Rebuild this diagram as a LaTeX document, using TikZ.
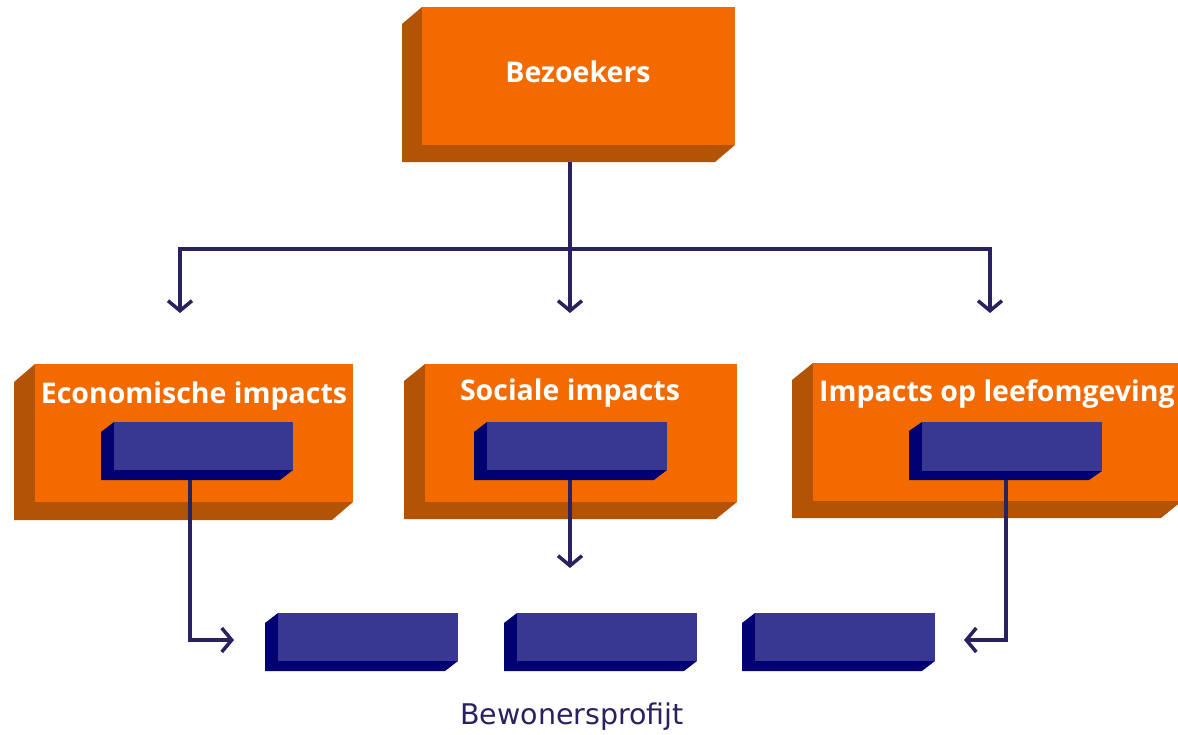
\documentclass[tikz,border=0pt]{standalone}
\usepackage{fontspec}
\setmainfont{DejaVu Sans}
\newfontfamily\lblfont{Open Sans}
\usetikzlibrary{arrows.meta}
\definecolor{orfront}{HTML}{F26A00}
\definecolor{orside}{HTML}{B35306}
\definecolor{blfront}{HTML}{383892}
\definecolor{blside}{HTML}{020172}
\definecolor{navy}{HTML}{28225F}
\newcommand\mybox[8]{%
  % #1 name, #2 x1, #3 y1, #4 x2, #5 y2, #6 dx, #7 dy, #8 colour base
  \fill[#8side] (#2,#3) -- (#2+#6,#3+#7) -- (#2+#6,#5+#7) -- (#4+#6,#5+#7) -- (#4,#5) -- cycle;
  \node[fill=#8front, inner sep=0pt, outer sep=0pt, anchor=north west,
        minimum width={(#4-#2)*1pt}, minimum height={(#5-#3)*1pt}] (#1) at (#2,#3) {};
}
\begin{document}
\begin{tikzpicture}[x=1pt,y=-1pt,
  conn/.style={draw=navy, line width=3.5pt},
  arr/.style={conn, -{Straight Barb[length=10pt,width=24pt,line width=3.5pt]}},
  lbl/.style={text=white, font=\lblfont\bfseries\fontsize{28.5}{32}\selectfont, inner sep=0pt}]
\useasboundingbox (0,0) rectangle (1178,734);
% top box
\mybox{bez}{422}{7}{735}{145}{-20}{17}{or}
\node[lbl] at (578,72) {Bezoekers};
% middle boxes
\mybox{eco}{35}{364}{353}{502}{-21}{18}{or}
\mybox{soc}{425}{364}{737}{502}{-21}{17}{or}
\mybox{lee}{813}{363}{1182}{501}{-21}{17}{or}
\node[lbl] at (194,396) {Economische impacts};
\node[lbl] at (570,393) {Sociale impacts};
\node[lbl, anchor=west] at (819,394) {Impacts op leefomgeving};
% inner blue boxes
\mybox{ecoi}{114}{422}{293}{470}{-13}{10}{bl}
\mybox{soci}{487}{422}{667}{470}{-13}{10}{bl}
\mybox{leei}{922}{422}{1102}{471}{-13}{9}{bl}
% bottom blue boxes
\mybox{b1}{278}{613}{458}{661}{-13}{10}{bl}
\mybox{b2}{517}{613}{697}{661}{-13}{10}{bl}
\mybox{b3}{755}{613}{935}{661}{-13}{10}{bl}
\node[text=navy, font=\fontsize{28.5}{30}\selectfont, inner sep=0pt] (bp) at (572,717) {Bewonersprofijt};
% connectors
\coordinate (s0) at (570,162);
\coordinate (j) at (570,249);
\coordinate (t1) at (180,313);
\coordinate (t2) at (570,313);
\coordinate (t3) at (990,313);
\draw[conn] (s0) -- (j);
\draw[arr] (j) -| (t1);
\draw[arr] (j) -- (t2);
\draw[arr] (j) -| (t3);
\coordinate (e0) at (190,480);
\coordinate (e1) at (234,640);
\draw[arr] (e0) |- (e1);
\coordinate (c0) at (570,480);
\coordinate (c1) at (570,568);
\draw[arr] (c0) -- (c1);
\coordinate (l0) at (1006,480);
\coordinate (l1) at (964,640);
\draw[arr] (l0) |- (l1);
\end{tikzpicture}
\end{document}
